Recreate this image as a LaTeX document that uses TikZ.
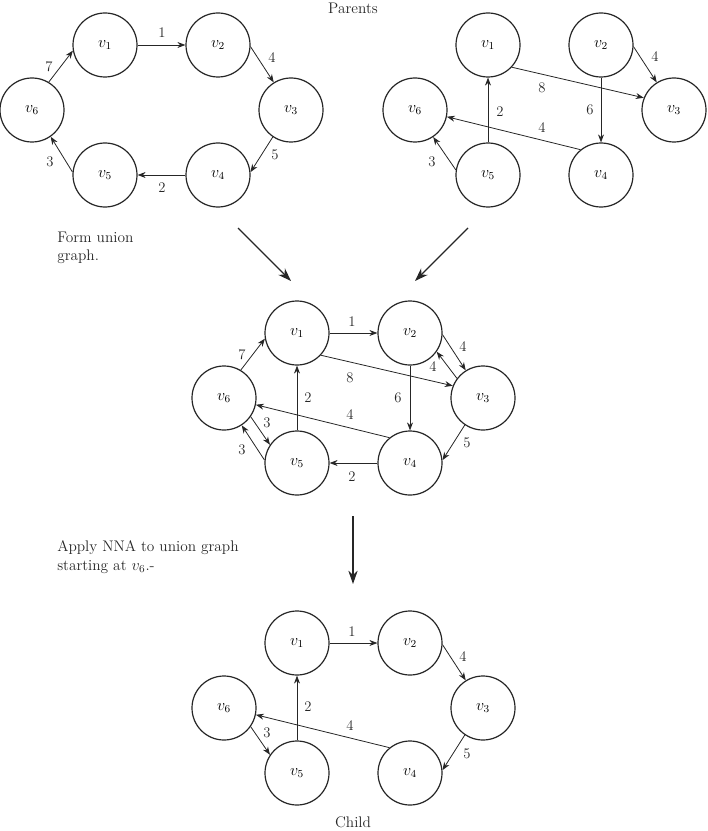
\documentclass[tikz,border=0pt]{standalone}
\usetikzlibrary{arrows.meta}
\begin{document}
\begin{tikzpicture}[x=0.75pt,y=-0.75pt,
  vert/.style={circle, draw=black!85, line width=0.9pt, minimum size=48pt, inner sep=0pt, font=\fontsize{11.5}{13}\selectfont},
  edge/.style={draw=black!85, line width=0.6pt, -{Stealth[length=6pt,width=4.5pt]}},
  wt/.style={font=\fontsize{11}{13}\selectfont, inner sep=1pt, text=black!85},
  bigarrow/.style={draw=black!85, line width=1pt, -{Stealth[length=10pt,width=7pt]}},
  caption/.style={font=\fontsize{11.5}{14}\selectfont, text=black!85, align=left, inner sep=0pt}]
\useasboundingbox (0,0) rectangle (707,831);

% ---------- top-left parent ----------
\node[vert] (A1) at (105,45) {$v_1$};
\node[vert] (A2) at (218,45) {$v_2$};
\node[vert] (A3) at (291,110) {$v_3$};
\node[vert] (A4) at (218,175) {$v_4$};
\node[vert] (A5) at (105,175) {$v_5$};
\node[vert] (A6) at (32,110) {$v_6$};
\draw[edge] (A1.east) -- (A2.west);
\draw[edge] (A2.-3) -- (A3.122);
\draw[edge] (A3.236) -- (A4.5);
\draw[edge] (A4.west) -- (A5.east);
\draw[edge] (A5.175) -- (A6.305);
\draw[edge] (A6.59) -- (A1.190);
\node[wt] (a12) at (162,33) {1};
\node[wt] (a23) at (272,58) {4};
\node[wt] (a34) at (275,155) {5};
\node[wt] (a45) at (162,188) {2};
\node[wt] (a56) at (50,162) {3};
\node[wt] (a61) at (49,67) {7};

% ---------- top-right parent ----------
\node[vert] (B1) at (488,45) {$v_1$};
\node[vert] (B2) at (601,45) {$v_2$};
\node[vert] (B3) at (674,110) {$v_3$};
\node[vert] (B4) at (601,175) {$v_4$};
\node[vert] (B5) at (488,175) {$v_5$};
\node[vert] (B6) at (415,110) {$v_6$};
\draw[edge] (B1.-43) -- (B3.158);
\draw[edge] (B2.-3) -- (B3.122);
\draw[edge] (B2.south) -- (B4.north);
\draw[edge] (B4.129) -- (B6.-12);
\draw[edge] (B5.north) -- (B1.south);
\draw[edge] (B5.171) -- (B6.304);
\node[wt] (b13) at (542,88) {8};
\node[wt] (b23) at (655,57) {4};
\node[wt] (b24) at (590,110) {6};
\node[wt] (b46) at (542,128) {4};
\node[wt] (b51) at (500,112) {2};
\node[wt] (b56) at (432,162) {3};

% ---------- union graph ----------
\node[vert] (C1) at (297,333) {$v_1$};
\node[vert] (C2) at (410,333) {$v_2$};
\node[vert] (C3) at (483,398) {$v_3$};
\node[vert] (C4) at (410,463) {$v_4$};
\node[vert] (C5) at (297,463) {$v_5$};
\node[vert] (C6) at (224,398) {$v_6$};
\draw[edge] (C1.east) -- (C2.west);
\draw[edge] (C6.59) -- (C1.190);
\draw[edge] (C2.-3) -- (C3.122);
\draw[edge] (C3.143) -- (C2.-35);
\draw[edge] (C1.-43) -- (C3.158);
\draw[edge] (C2.south) -- (C4.north);
\draw[edge] (C5.north) -- (C1.south);
\draw[edge] (C4.129) -- (C6.-12);
\draw[edge] (C6.-35) -- (C5.146);
\draw[edge] (C5.175) -- (C6.303);
\draw[edge] (C3.236) -- (C4.5);
\draw[edge] (C4.west) -- (C5.east);
\node[wt] (c12) at (352,322) {1};
\node[wt] (c61) at (242,355) {7};
\node[wt] (c23) at (463,347) {4};
\node[wt] (c32) at (433,367) {4};
\node[wt] (c13) at (350,378) {8};
\node[wt] (c24) at (398,398) {6};
\node[wt] (c51) at (308,398) {2};
\node[wt] (c46) at (350,415) {4};
\node[wt] (c65) at (267,423) {3};
\node[wt] (c56) at (242,450) {3};
\node[wt] (c34) at (467,443) {5};
\node[wt] (c45) at (352,477) {2};

% ---------- child ----------
\node[vert] (D1) at (297,643) {$v_1$};
\node[vert] (D2) at (410,643) {$v_2$};
\node[vert] (D3) at (483,708) {$v_3$};
\node[vert] (D4) at (410,773) {$v_4$};
\node[vert] (D5) at (297,773) {$v_5$};
\node[vert] (D6) at (224,708) {$v_6$};
\draw[edge] (D1.east) -- (D2.west);
\draw[edge] (D2.-3) -- (D3.122);
\draw[edge] (D3.236) -- (D4.5);
\draw[edge] (D4.129) -- (D6.-12);
\draw[edge] (D6.-35) -- (D5.146);
\draw[edge] (D5.north) -- (D1.south);
\node[wt] (d12) at (352,632) {1};
\node[wt] (d23) at (463,657) {4};
\node[wt] (d34) at (467,754) {5};
\node[wt] (d46) at (350,726) {4};
\node[wt] (d65) at (267,733) {3};
\node[wt] (d51) at (308,707) {2};

% ---------- captions and big arrows ----------
\node[caption] (parents) at (353,8) {Parents};
\node[caption] (child) at (353,822) {Child};
\node[caption, anchor=west] (formtxt) at (57,248) {Form union\\graph.};
\node[caption, anchor=west] (nnatxt) at (57,557) {Apply NNA to union graph\\starting at $v_6$.-};
\coordinate (s1) at (238,228);
\coordinate (e1) at (291,281);
\coordinate (s2) at (468,228);
\coordinate (e2) at (415,281);
\coordinate (s3) at (353,516);
\coordinate (e3) at (353,584);
\draw[bigarrow] (s1) -- (e1);
\draw[bigarrow] (s2) -- (e2);
\draw[bigarrow] (s3) -- (e3);
\end{tikzpicture}
\end{document}
